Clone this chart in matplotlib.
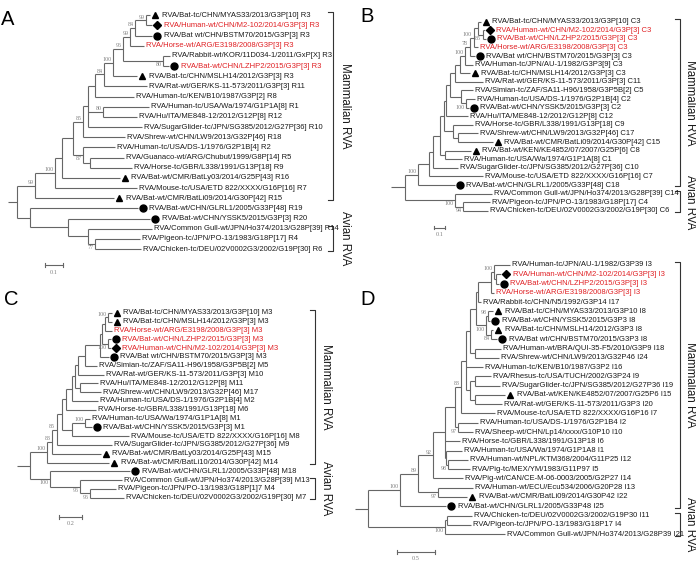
import matplotlib
matplotlib.use('Agg')
import matplotlib.pyplot as plt
from matplotlib import transforms

# ---- panel A : VP3 genotypes (R) ----
A_labels = [
    'RVA/Bat-tc/CHN/MYAS33/2013/G3P[10] R3', 'RVA/Human-wt/CHN/M2-102/2014/G3P[3] R3',
    'RVA/Bat wt/CHN/BSTM70/2015/G3P[3] R3', 'RVA/Horse-wt/ARG/E3198/2008/G3P[3] R3',
    'RVA/Rabbit-wt/KOR/11D034-1/2011/GxP[X] R3', 'RVA/Bat-wt/CHN/LZHP2/2015/G3P[3] R3',
    'RVA/Bat-tc/CHN/MSLH14/2012/G3P[3] R3', 'RVA/Rat-wt/GER/KS-11-573/2011/G3P[3] R11',
    'RVA/Human-tc/KEN/B10/1987/G3P[2] R8', 'RVA/Human-tc/USA/Wa/1974/G1P1A[8] R1',
    'RVA/Hu/ITA/ME848-12/2012/G12P[8] R12', 'RVA/SugarGlider-tc/JPN/SG385/2012/G27P[36] R10',
    'RVA/Shrew-wt/CHN/LW9/2013/G32P[46] R18', 'RVA/Human-tc/USA/DS-1/1976/G2P1B[4] R2',
    'RVA/Guanaco-wt/ARG/Chubut/1999/G8P[14] R5', 'RVA/Horse-tc/GBR/L338/1991/G13P[18] R9',
    'RVA/Bat-wt/CMR/BatLy03/2014/G25P[43] R16', 'RVA/Mouse-tc/USA/ETD 822/XXXX/G16P[16] R7',
    'RVA/Bat-wt/CMR/BatLi09/2014/G30P[42] R15', 'RVA/Bat-wt/CHN/GLRL1/2005/G33P[48] R19',
    'RVA/Bat-wt/CHN/YSSK5/2015/G3P[3] R20', 'RVA/Common Gull-wt/JPN/Ho374/2013/G28P[39] R14',
    'RVA/Pigeon-tc/JPN/PO-13/1983/G18P[17] R4', 'RVA/Chicken-tc/DEU/02V0002G3/2002/G19P[30] R6']
A_marks = 't d c . . c t . . . . . . . . . t . t c c . . .'.split()
A_red = [1, 3, 5]
A_tree = ("((((((((((((((0:0.022,1:0.033)99:0.061,2:0.094)84:0.028,3:0.078)99:0.039,"
          "(4:0.039,5:0.033)80:0.222)96:0.056,6:0.133)100:0.050,7:0.239)84:0.050,"
          "8:0.217):0.039,(9:0.256,10:0.189)80:0.083,11:0.300):0.028,12:0.233)85:0.056,"
          "(13:0.178,(14:0.189,15:0.233):0.039)87:0.056):0.061,16:0.322):0.039,"
          "17:0.456)100:0.111,18:0.439)99:0.100,"
          "(19:0.600,(20:0.456,(21:0.356,(22:0.250,23:0.256)77:0.039):0.111):0.211):0.072);")
A_groups = [('Mammalian RVA', 0, 18), ('Avian RVA', 21, 23)]

# ---- panel B : VP2 genotypes (C) ----
B_labels = [
    'RVA/Bat-tc/CHN/MYAS33/2013/G3P[10] C3', 'RVA/Human-wt/CHN/M2-102/2014/G3P[3] C3',
    'RVA/Bat-wt/CHN/LZHP2/2015/G3P[3] C3', 'RVA/Horse-wt/ARG/E3198/2008/G3P[3] C3',
    'RVA/Bat wt/CHN/BSTM70/2015/G3P[3] C3', 'RVA/Human-tc/JPN/AU-1/1982/G3P3[9] C3',
    'RVA/Bat-tc/CHN/MSLH14/2012/G3P[3] C3', 'RVA/Rat-wt/GER/KS-11-573/2011/G3P[3] C11',
    'RVA/Simian-tc/ZAF/SA11-H96/1958/G3P5B[2] C5', 'RVA/Human-tc/USA/DS-1/1976/G2P1B[4] C2',
    'RVA/Bat-wt/CHN/YSSK5/2015/G3P[3] C2', 'RVA/Hu/ITA/ME848-12/2012/G12P[8] C12',
    'RVA/Horse-tc/GBR/L338/1991/G13P[18] C9', 'RVA/Shrew-wt/CHN/LW9/2013/G32P[46] C17',
    'RVA/Bat-wt/CMR/BatLi09/2014/G30P[42] C15', 'RVA/Bat-wt/KEN/KE4852/07/2007/G25P[6] C8',
    'RVA/Human-tc/USA/Wa/1974/G1P1A[8] C1', 'RVA/SugarGlider-tc/JPN/SG385/2012/G27P[36] C10',
    'RVA/Mouse-tc/USA/ETD 822/XXXX/G16P[16] C7', 'RVA/Bat-wt/CHN/GLRL1/2005/G33P[48] C18',
    'RVA/Common Gull-wt/JPN/Ho374/2013/G28P[39] C14', 'RVA/Pigeon-tc/JPN/PO-13/1983/G18P[17] C4',
    'RVA/Chicken-tc/DEU/02V0002G3/2002/G19P[30] C6']
B_marks = 't d c . c . t . . . c . . . t t . . . c . . .'.split()
B_red = [1, 2, 3]
B_tree = ("((((((((((((((0:0.027,(1:0.018,2:0.027)85:0.045):0.036,3:0.036)100:0.036,"
          "4:0.045)78:0.045,5:0.073)100:0.045,6:0.091):0.045,7:0.255):0.045,"
          "(8:0.109,(9:0.082,10:0.027)100:0.045):0.100):0.036,11:0.200):0.018,"
          "(12:0.182,(13:0.182,14:0.318):0.045):0.082):0.036,(15:0.236,16:0.155):0.045):0.064,"
          "17:0.227):0.036,18:0.491):0.100,19:0.336)100:0.118,"
          "(20:0.336,(21:0.245,22:0.227)94:0.073)100:0.455);")
B_groups = [('Mammalian RVA', 0, 19), ('Avian RVA', 20, 22)]

# ---- panel C : VP1 genotypes (M) ----
C_labels = [
    'RVA/Bat-tc/CHN/MYAS33/2013/G3P[10] M3', 'RVA/Bat-tc/CHN/MSLH14/2012/G3P[3] M3',
    'RVA/Horse-wt/ARG/E3198/2008/G3P[3] M3', 'RVA/Bat-wt/CHN/LZHP2/2015/G3P[3] M3',
    'RVA/Human-wt/CHN/M2-102/2014/G3P[3] M3', 'RVA/Bat wt/CHN/BSTM70/2015/G3P[3] M3',
    'RVA/Simian-tc/ZAF/SA11-H96/1958/G3P5B[2] M5', 'RVA/Rat-wt/GER/KS-11-573/2011/G3P[3] M10',
    'RVA/Hu/ITA/ME848-12/2012/G12P[8] M11', 'RVA/Shrew-wt/CHN/LW9/2013/G32P[46] M17',
    'RVA/Human-tc/USA/DS-1/1976/G2P1B[4] M2', 'RVA/Horse-tc/GBR/L338/1991/G13P[18] M6',
    'RVA/Human-tc/USA/Wa/1974/G1P1A[8] M1', 'RVA/Bat-wt/CHN/YSSK5/2015/G3P[3] M1',
    'RVA/Mouse-tc/USA/ETD 822/XXXX/G16P[16] M8', 'RVA/SugarGlider-tc/JPN/SG385/2012/G27P[36] M9',
    'RVA/Bat-wt/CMR/BatLy03/2014/G25P[43] M15', 'RVA/Bat-wt/CMR/BatLi10/2014/G30P[42] M14',
    'RVA/Bat-wt/CHN/GLRL1/2005/G33P[48] M18', 'RVA/Common Gull-wt/JPN/Ho374/2013/G28P[39] M13',
    'RVA/Pigeon-tc/JPN/PO-13/1983/G18P[1]7 M4', 'RVA/Chicken-tc/DEU/02V0002G3/2002/G19P[30] M7']
C_marks = 't t . c d c . . . . . . . c . . t t c . . .'.split()
C_red = [2, 3, 4]
C_tree = ("((((((((((((((0:0.035,1:0.035)100:0.026,2:0.061):0.026,(3:0.026,4:0.026)100:0.052):0.017,"
          "5:0.078):0.130,6:0.104):0.061,7:0.226):0.026,(8:0.157,9:0.183):0.043):0.026,"
          "10:0.226):0.052,11:0.261):0.035,((12:0.043,13:0.061)100:0.113,14:0.496):0.087):0.043,"
          "15:0.478)85:0.043,16:0.426)83:0.043,17:0.539)100:0.148,"
          "(18:0.696,(19:0.365,(20:0.226,21:0.296)96:0.087)96:0.261)100:0.174);")
C_groups = [('Mammalian RVA', 0, 17), ('Avian RVA', 19, 21)]

# ---- panel D : VP6 genotypes (I) ----
D_labels = [
    'RVA/Human-tc/JPN/AU-1/1982/G3P39 I3', 'RVA/Human-wt/CHN/M2-102/2014/G3P[3] I3',
    'RVA/Bat-wt/CHN/LZHP2/2015/G3P[3] I3', 'RVA/Horse-wt/ARG/E3198/2008/G3P[3] I3',
    'RVA/Rabbit-tc/CHN/N5/1992/G3P14 I17', 'RVA/Bat-tc/CHN/MYAS33/2013/G3P10 I8',
    'RVA/Bat-wt/CHN/YSSK5/2015/G3P3 I8', 'RVA/Bat-tc/CHN/MSLH14/2012/G3P3 I8',
    'RVA/Bat wt/CHN/BSTM70/2015/G3P3 I8', 'RVA/Human-wt/BRA/QUI-35-F5/2010/G3P9 I18',
    'RVA/Shrew-wt/CHN/LW9/2013/G32P46 I24', 'RVA/Human-tc/KEN/B10/1987/G3P2 I16',
    'RVA/Rhesus-tc/USA/TUCH/2002/G3P24 I9', 'RVA/SugarGlider-tc/JPN/SG385/2012/G27P36 I19',
    'RVA/Bat-wt/KEN/KE4852/07/2007/G25P6 I15', 'RVA/Rat-wt/GER/KS-11-573/2011/G3P3 I20',
    'RVA/Mouse-tc/USA/ETD 822/XXXX/G16P16 I7', 'RVA/Human-tc/USA/DS-1/1976/G2P1B4 I2',
    'RVA/Sheep-wt/CHN/Lp14/xxxx/G10P10 I10', 'RVA/Horse-tc/GBR/L338/1991/G13P18 I6',
    'RVA/Human-tc/USA/Wa/1974/G1P1A8 I1', 'RVA/Human-wt/NPL/KTM368/2004/G11P25 I12',
    'RVA/Pig-tc/MEX/YM/1983/G11P97 I5', 'RVA/Pig-wt/CAN/CE-M-06-0003/2005/G2P27 I14',
    'RVA/Human-wt/ECU/Ecu534/2006/G20P28 I13', 'RVA/Bat-wt/CMR/BatLi09/2014/G30P42 I22',
    'RVA/Bat-wt/CHN/GLRL1/2005/G33P48 I25', 'RVA/Chicken-tc/DEU/02V0002G3/2002/G19P30 I11',
    'RVA/Pigeon-tc/JPN/PO-13/1983/G18P17 I4', 'RVA/Common Gull-wt/JPN/Ho374/2013/G28P39 I21']
D_marks = '. d c . . t c t c . . . . . t . . . . . . . . . . t c . . .'.split()
D_red = [1, 2, 3]
D_tree = ("(((((((((((((0:0.211,(1:0.066,2:0.039):0.026)100:0.039,3:0.039):0.171,4:0.039):0.026,"
          "((5:0.066,6:0.026)98:0.026,(7:0.026,8:0.079)84:0.066)100:0.132):0.079,"
          "(9:0.342,10:0.316):0.066):0.053,11:0.224,((12:0.211,13:0.329):0.066,"
          "(14:0.395,15:0.355):0.066):0.053):0.066,"
          "16:0.447)83:0.079,(17:0.263,18:0.197)97:0.039):0.132,19:0.197,"
          "(20:0.211,(21:0.263,22:0.289)98:0.026):0.013):0.158,"
          "23:0.395)92:0.197,(24:0.461,25:0.382)97:0.263)89:0.237,26:0.605)100:0.421,"
          "((27:0.329,28:0.316):0.026,29:0.789)100:1.013);")
D_groups = [('Mammalian RVA', 0, 26), ('Avian RVA', 27, 29)]


def parse_newick(s):
    pos = 0

    def node():
        nonlocal pos
        n = {'children': [], 'name': '', 'length': 0.0}
        if s[pos] == '(':
            pos += 1
            while True:
                n['children'].append(node())
                if s[pos] == ',':
                    pos += 1
                    continue
                pos += 1
                break
        start = pos
        while s[pos] not in ':,);':
            pos += 1
        n['name'] = s[start:pos]
        if s[pos] == ':':
            pos += 1
            start = pos
            while s[pos] not in ',);':
                pos += 1
            n['length'] = float(s[start:pos])
        return n
    return node()


def place(n, x0=0.0):
    n['x'] = x0 + n['length']
    if n['children']:
        for c in n['children']:
            place(c, n['x'])
        n['y'] = (n['children'][0]['y'] + n['children'][-1]['y']) / 2
    else:
        n['y'] = int(n['name'])


W, H = 696, 563
LINE = '#666666'
fig = plt.figure(figsize=(W / 100, H / 100), dpi=100)


def draw_panel(letter, tree, labels, marks, red, groups, root_px, px_per_unit,
               top_px, step_px, stub, scale, scale_x, scale_y, brk_px, txt_px, letter_px):
    ax = fig.add_axes([0, 0, 1, 1])
    ax.set_xlim(-root_px / px_per_unit, (W - root_px) / px_per_unit)
    ax.set_ylim((H - top_px) / step_px, -top_px / step_px)
    ax.axis('off')
    ax.patch.set_alpha(0)

    root = parse_newick(tree)
    place(root)

    def walk(n, is_last):
        if n['children']:
            ys = [c['y'] for c in n['children']]
            ax.plot([n['x'], n['x']], [ys[0], ys[-1]], color=LINE, lw=0.8,
                    solid_capstyle='butt')
            for i, c in enumerate(n['children']):
                ax.plot([n['x'], c['x']], [c['y'], c['y']], color=LINE, lw=0.8,
                        solid_capstyle='butt')
                walk(c, i == len(n['children']) - 1)
            if n['name'] and n is not root:
                dy = -4.5 if is_last else 0.5
                ax.annotate(n['name'], (n['x'], n['y']), xytext=(-1.2, dy),
                            textcoords='offset points', ha='right', va='bottom',
                            fontsize=4.3, color='#808080', family='Liberation Serif')
        else:
            i = int(n['name'])
            col = '#e02024' if i in red else '#1a1a1a'
            mk = marks[i]
            tx = 1.6
            if mk != '.':
                sym = {'t': '^', 'c': 'o', 'd': 'D'}[mk]
                ms = {'t': 4.8, 'c': 5.0, 'd': 3.7}[mk]
                tr = transforms.offset_copy(ax.transData, fig=fig, x=3.8, y=0, units='points')
                ax.plot([n['x']], [n['y']], marker=sym, ms=ms, color='black',
                        transform=tr, clip_on=False)
                tx = 8.3
            ax.annotate(labels[i], (n['x'], n['y']), xytext=(tx, 0),
                        textcoords='offset points', ha='left', va='center',
                        fontsize=5.5, color=col, family='Liberation Sans')

    walk(root, False)
    ax.plot([-stub, 0], [root['y'], root['y']], color=LINE, lw=0.8, solid_capstyle='butt')

    # scale bar
    yb = len(labels) - 1 + scale_y
    ax.plot([scale_x, scale_x + scale], [yb, yb], color=LINE, lw=0.8)
    for xe in (scale_x, scale_x + scale):
        ax.plot([xe, xe], [yb - 0.2, yb + 0.2], color=LINE, lw=0.8)
    ax.annotate(str(scale), (scale_x + scale / 2, yb), xytext=(0, -3),
                textcoords='offset points', ha='center', va='top',
                fontsize=4.5, color='#808080', family='Liberation Serif')

    # clade brackets
    bt = transforms.blended_transform_factory(ax.transAxes, ax.transData)
    bx, tk = brk_px / W, 5 / W
    for name, g0, g1 in groups:
        y0, y1 = g0 - 0.3, g1 + 0.15
        ax.plot([bx - tk, bx, bx, bx - tk], [y0, y0, y1, y1], color='#333333',
                lw=0.8, transform=bt)
        ax.text(txt_px / W, (y0 + y1) / 2, name, rotation=-90, ha='center', va='center',
                fontsize=8.3, color='#1a1a1a', family='Liberation Sans', transform=bt)

    fig.text(letter_px[0] / W, 1 - letter_px[1] / H, letter, ha='left', va='top',
             fontsize=14.5, family='Liberation Sans')


draw_panel('A', A_tree, A_labels, A_marks, A_red, A_groups, 17, 180, 15.2, 10.17,
           0.05, 0.1, 0.156, 1.6, 333, 345, (1, 10))
draw_panel('B', B_tree, B_labels, B_marks, B_red, B_groups, 405, 110, 21.7, 8.6,
           0.127, 0.1, 0.264, 1.95, 680, 690, (360, 7))
draw_panel('C', C_tree, C_labels, C_marks, C_red, C_groups, 30, 115, 313, 8.8,
           0.113, 0.2, 0.252, 2.2, 315, 326, (4, 290))
draw_panel('D', D_tree, D_labels, D_marks, D_red, D_groups, 368, 76, 265, 9.28,
           0.171, 0.5, 0.382, 1.9, 680, 690, (360, 290))

fig.savefig('out.png', dpi=100)
